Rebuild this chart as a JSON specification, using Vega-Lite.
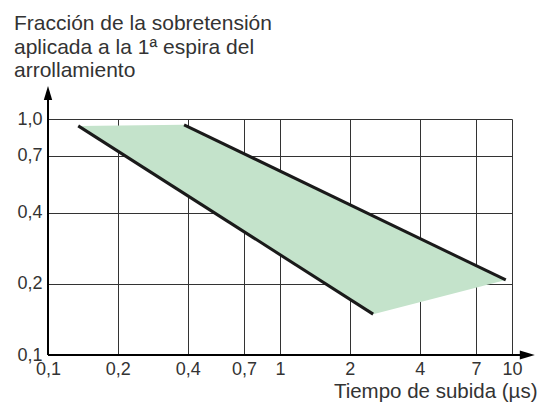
{
  "$schema": "https://vega.github.io/schema/vega-lite/v6.json",
  "width": 464,
  "height": 236,
  "autosize": {"type": "none"},
  "padding": {"left": 48, "top": 119, "right": 26, "bottom": 48},
  "background": "white",
  "config": {
    "view": {"stroke": null},
    "font": "Liberation Sans"
  },
  "encoding": {
    "x": {
      "field": "x", "type": "quantitative",
      "scale": {"type": "log", "domain": [0.1, 10], "nice": false},
      "axis": {
        "values": [0.1, 0.2, 0.4, 0.7, 1, 2, 4, 7, 10],
        "labelExpr": "datum.value < 1 ? replace(format(datum.value, '.1f'), '.', ',') : format(datum.value, 'd')",
        "domain": false, "ticks": false,
        "grid": true, "gridColor": "#333333", "gridWidth": 1, "gridOpacity": 1,
        "labelFont": "Liberation Sans", "labelFontSize": 18, "labelColor": "#333333",
        "labelPadding": 5, "labelFlush": false, "labelOverlap": false,
        "title": "Tiempo de subida (µs)",
        "titleFont": "Liberation Sans", "titleFontSize": 20.5, "titleFontWeight": "normal", "titleColor": "#333333",
        "titleAnchor": null, "titleAlign": "right", "titleBaseline": "alphabetic",
        "titleX": 489, "titleY": 42
      }
    },
    "y": {
      "field": "y", "type": "quantitative",
      "scale": {"type": "log", "domain": [0.1, 1], "nice": false},
      "axis": {
        "values": [0.1, 0.2, 0.4, 0.7, 1],
        "labelExpr": "replace(format(datum.value, '.1f'), '.', ',')",
        "domain": false, "ticks": false,
        "grid": true, "gridColor": "#333333", "gridWidth": 1, "gridOpacity": 1,
        "labelFont": "Liberation Sans", "labelFontSize": 18, "labelColor": "#333333",
        "labelPadding": 6, "labelFlush": false, "labelOverlap": false,
        "title": ["Fracción de la sobretensión", "aplicada a la 1ª espira del", "arrollamiento"],
        "titleFont": "Liberation Sans", "titleFontSize": 21, "titleFontWeight": "normal", "titleColor": "#333333",
        "titleAngle": 0, "titleAlign": "left", "titleBaseline": "alphabetic", "titleLineHeight": 23.5,
        "titleAnchor": null, "titleX": -34.5, "titleY": -89.3
      }
    }
  },
  "layer": [
    {
      "data": {"values": [
        {"x": 0.135, "y": 0.935, "o": 1},
        {"x": 0.386, "y": 0.945, "o": 2},
        {"x": 9.4, "y": 0.208, "o": 3},
        {"x": 2.52, "y": 0.149, "o": 4}
      ]},
      "mark": {"type": "line", "fill": "#c4e3cb", "stroke": null, "interpolate": "linear-closed"},
      "encoding": {"order": {"field": "o", "type": "quantitative"}}
    },
    {
      "data": {"values": [
        {"line": "lower", "x": 0.135, "y": 0.935},
        {"line": "lower", "x": 2.52, "y": 0.149},
        {"line": "upper", "x": 0.386, "y": 0.945},
        {"line": "upper", "x": 9.4, "y": 0.208}
      ]},
      "mark": {"type": "line", "color": "#1a1a1a", "strokeWidth": 3},
      "encoding": {"detail": {"field": "line"}}
    },
    {
      "data": {"values": [{"x": 0.1, "y": 0.1, "y2": 1.22}]},
      "mark": {"type": "rule", "color": "#000000", "strokeWidth": 2},
      "encoding": {"y2": {"field": "y2"}}
    },
    {
      "data": {"values": [{"x": 0.1, "x2": 10.9, "y": 0.1}]},
      "mark": {"type": "rule", "color": "#000000", "strokeWidth": 2},
      "encoding": {"x2": {"field": "x2"}}
    },
    {
      "data": {"values": [{"x": 0.1, "y": 1.29}]},
      "mark": {"type": "point", "shape": "M0,-1 L0.6,1 L-0.6,1 Z", "size": 196, "filled": true, "color": "#000000", "opacity": 1}
    },
    {
      "data": {"values": [{"x": 11.64, "y": 0.1}]},
      "mark": {"type": "point", "shape": "M1,0 L-1,-0.6 L-1,0.6 Z", "size": 225, "filled": true, "color": "#000000", "opacity": 1}
    }
  ]
}
